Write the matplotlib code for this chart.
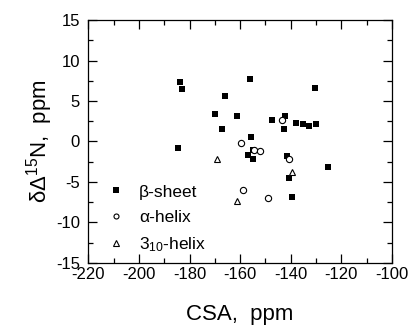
import matplotlib
matplotlib.use('Agg')
import matplotlib.pyplot as plt
from matplotlib.ticker import MultipleLocator

plt.rcParams['font.family'] = ['Liberation Sans', 'DejaVu Sans']
plt.rcParams['mathtext.fontset'] = 'custom'
plt.rcParams['mathtext.rm'] = 'Liberation Sans'
plt.rcParams['mathtext.it'] = 'Liberation Sans:italic'
plt.rcParams['axes.unicode_minus'] = False

# beta-sheet residues (CSA, delta-Delta 15N)
sheet_csa = [-183.7, -182.9, -156.2, -166.1, -130.4, -170.0, -161.1, -167.1,
             -147.4, -142.2, -142.7, -138.1, -135.2, -132.9, -130.2, -155.7,
             -184.5, -156.8, -154.8, -155.0, -141.6, -140.6, -125.3, -139.4]
sheet_dd = [7.4, 6.5, 7.7, 5.6, 6.6, 3.4, 3.2, 1.6,
            2.6, 3.1, 1.5, 2.3, 2.1, 1.9, 2.1, 0.6,
            -0.8, -1.7, -2.2, -1.05, -1.8, -4.5, -3.1, -6.9]

# alpha-helix residues
alpha_csa = [-143.5, -159.6, -154.5, -152.2, -140.7, -158.9, -149.0]
alpha_dd = [2.65, -0.2, -1.05, -1.15, -2.2, -5.95, -6.95]

# 3-10 helix residues
h310_csa = [-169.1, -139.4, -161.4]
h310_dd = [-2.15, -3.8, -7.4]

fig = plt.figure(figsize=(4.13, 3.29), dpi=100)
ax = fig.add_axes([0.214, 0.201, 0.735, 0.738])

ax.plot(sheet_csa, sheet_dd, 's', color='black', markersize=4.8,
        markeredgewidth=0, label='β-sheet')
ax.plot(alpha_csa, alpha_dd, 'o', markerfacecolor='white', markeredgecolor='black',
        markersize=4.5, markeredgewidth=0.8, label='α-helix')
ax.plot(h310_csa, h310_dd, '^', markerfacecolor='white', markeredgecolor='black',
        markersize=4.7, markeredgewidth=0.8, label='3$_{10}$-helix')

ax.set_xlim(-220, -100)
ax.set_ylim(-15, 15)
ax.xaxis.set_major_locator(MultipleLocator(20))
ax.xaxis.set_minor_locator(MultipleLocator(10))
ax.yaxis.set_major_locator(MultipleLocator(5))
ax.yaxis.set_minor_locator(MultipleLocator(2.5))
ax.tick_params(which='both', direction='in', top=True, right=True,
               labelsize=12, width=0.9)
ax.tick_params(which='major', length=6.5)
ax.tick_params(axis='y', which='major', pad=6)
ax.tick_params(axis='x', which='major', pad=3)
ax.tick_params(which='minor', length=3.5)
for s in ax.spines.values():
    s.set_linewidth(0.9)

ax.set_xlabel('CSA,  ppm', fontsize=16, labelpad=16)
ax.set_ylabel('δΔ$^{15}$N,  ppm', fontsize=16, labelpad=1)

ax.legend(loc='lower left', bbox_to_anchor=(0.035, 0.0), frameon=False,
          fontsize=12.5, markerscale=0.8, handlelength=1.0,
          handletextpad=0.8, labelspacing=0.6, borderaxespad=0.1)

fig.savefig('out.png', dpi=100)
